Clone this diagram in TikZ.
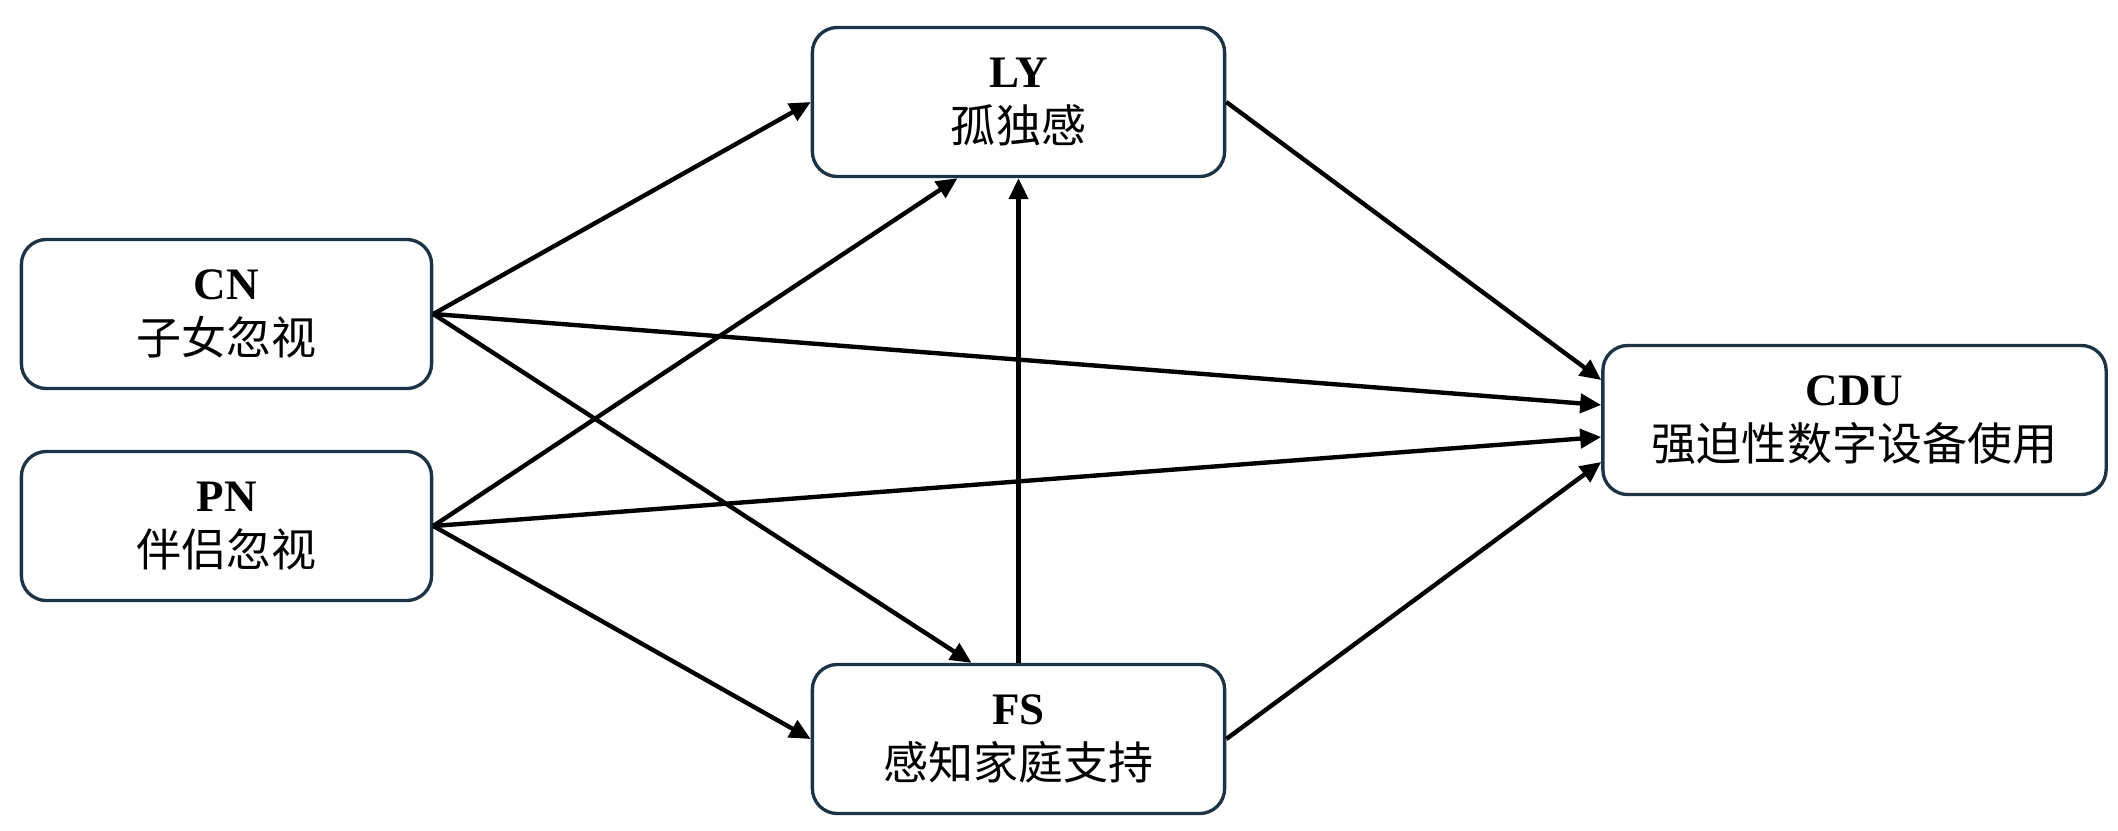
\documentclass[tikz,border=0pt]{standalone}
\usepackage{fontspec}
\setmainfont{Liberation Serif}
\newfontfamily\cjk{Noto Sans CJK SC}
\usetikzlibrary{arrows.meta,calc}
\definecolor{boxline}{HTML}{1E3445}
\begin{document}
\begin{tikzpicture}[x=0.01cm,y=-0.01cm,
  box/.style={draw=boxline,line width=0.95pt,rounded corners=0.25cm,fill=white,
    minimum height=1.49cm,align=center,inner sep=0pt,
    font=\fontsize{12.8pt}{15.8pt}\selectfont},
  conn/.style={draw=black,line width=1.25pt,-{Triangle[length=0.21cm,width=0.19cm]}}]
\useasboundingbox[fill=white] (0,0) rectangle (2118,830);
\node[box,minimum width=4.10cm] (CN) at (226.5,314) {\textbf{CN}\\{\cjk 子女忽视}};
\node[box,minimum width=4.10cm] (PN) at (226.5,526) {\textbf{PN}\\{\cjk 伴侣忽视}};
\node[box,minimum width=4.12cm] (LY) at (1018.5,102) {\textbf{LY}\\{\cjk 孤独感}};
\node[box,minimum width=4.12cm] (FS) at (1018.5,739) {\textbf{FS}\\{\cjk 感知家庭支持}};
\node[box,minimum width=5.03cm] (CDU) at (1854.5,420) {\textbf{CDU}\\{\cjk 强迫性数字设备使用}};
\draw[conn] (CN.east) -- (LY.west);
\draw[conn] (CN.east) -- ($(CDU.west)+(0,-15)$);
\draw[conn] (CN.east) -- ($(FS.north)+(-47,0)$);
\draw[conn] (PN.east) -- ($(LY.south)+(-61,0)$);
\draw[conn] (PN.east) -- ($(CDU.west)+(0,17)$);
\draw[conn] (PN.east) -- (FS.west);
\draw[conn] (FS.north) -- (LY.south);
\draw[conn] (LY.east) -- ($(CDU.west)+(0,-40)$);
\draw[conn] (FS.east) -- ($(CDU.west)+(0,42)$);
\end{tikzpicture}
\end{document}
